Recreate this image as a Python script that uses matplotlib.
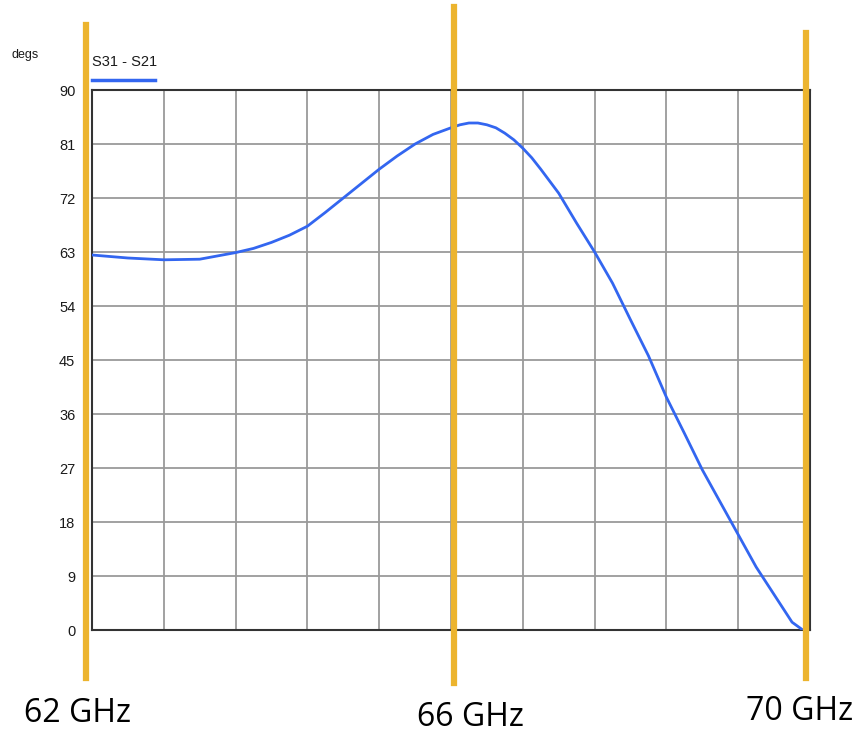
import matplotlib
matplotlib.use("Agg")
import matplotlib.pyplot as plt

# ── 데이터 ──────────────────────────────────────
freq_ghz = [62.0, 62.4, 62.8, 63.2, 63.6, 63.8, 64.0, 64.2, 64.4, 64.6,
            64.8, 65.0, 65.2, 65.4, 65.6, 65.8, 66.0, 66.1, 66.2, 66.3,
            66.4, 66.5, 66.6, 66.7, 66.8, 66.9, 67.0, 67.2, 67.4, 67.6,
            67.8, 68.0, 68.2, 68.4, 68.6, 68.8, 69.0, 69.2, 69.4, 69.6,
            69.8, 69.92]
phase_deg = [62.5, 62.0, 61.7, 61.8, 62.9, 63.6, 64.6, 65.8, 67.3, 69.6,
             72.0, 74.4, 76.8, 79.0, 81.0, 82.6, 83.7, 84.2, 84.5, 84.5,
             84.2, 83.7, 82.8, 81.7, 80.3, 78.7, 76.8, 72.8, 67.8, 63.0,
             57.8, 51.7, 45.7, 38.8, 32.8, 26.7, 21.3, 15.9, 10.5, 5.9,
             1.3, 0.0]
y_ticks = [0, 9, 18, 27, 36, 45, 54, 63, 72, 81, 90]
marker_freqs = [61.93, 66.03, 69.96]
marker_labels = ["62 GHz", "66 GHz", "70 GHz"]
series_name = "S31 - S21"
y_unit = "degs"

fig = plt.figure(figsize=(8.68, 7.33), dpi=100)
ax = fig.add_axes([92 / 868, 1 - 630 / 733, 718 / 868, 540 / 733])

ax.plot(freq_ghz, phase_deg, color="#3366f0", linewidth=2.0, zorder=3)

ax.set_xlim(62, 70)
ax.set_ylim(0, 90)
ax.set_xticks([62 + 0.8 * i for i in range(11)])
ax.set_xticklabels([])
ax.set_yticks(y_ticks)
ax.set_yticklabels([str(v) for v in y_ticks], fontsize=10.5,
                   family="Liberation Sans", color="#1a1a1a")
ax.tick_params(length=0, pad=12)
ax.grid(True, color="#9a9a9a", linewidth=1.3)
for sp in ax.spines.values():
    sp.set_color("#333333")
    sp.set_linewidth(1.5)

# 주파수 마커 (주황 세로선)
spans = [(-0.089, 1.12), (-0.098, 1.154), (-0.089, 1.106)]
for f, (lo, hi) in zip(marker_freqs, spans):
    ax.axvline(f, lo, hi, color="#ecb42e", linewidth=4.5,
               clip_on=False, zorder=4)

# 하단 라벨
label_pos = [(78, 713), (470, 718), (800, 712)]
for (px, py), lab in zip(label_pos, marker_labels):
    fig.text(px / 868, 1 - py / 733, lab, fontsize=23,
             family="Open Sans", ha="center", va="center")

# 범례 및 단위
fig.text(12 / 868, 1 - 55 / 733, y_unit, fontsize=9,
         family="Liberation Sans", va="center", color="#1a1a1a")
fig.text(92 / 868, 1 - 62 / 733, series_name, fontsize=10.5,
         family="Liberation Sans", va="center", color="#1a1a1a")
fig.add_artist(plt.Line2D([92 / 868, 155 / 868], [1 - 80 / 733, 1 - 80 / 733],
                          color="#3366f0", linewidth=2.5))

fig.savefig("out.png", dpi=100)
